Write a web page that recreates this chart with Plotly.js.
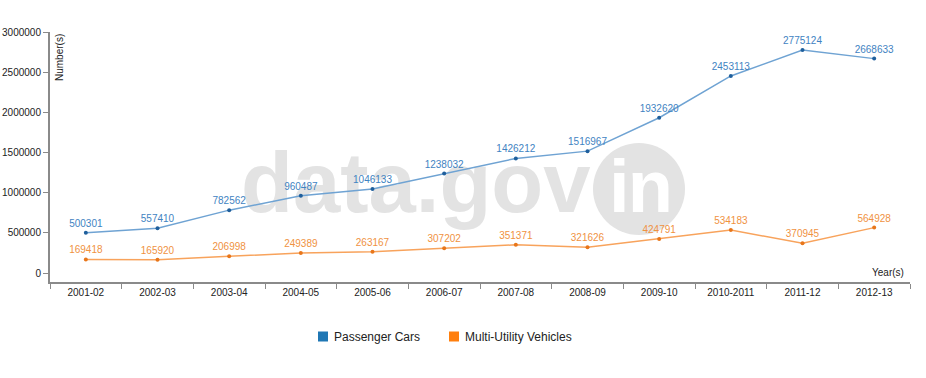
<!DOCTYPE html>
<html><head><meta charset="utf-8">
<script src="https://cdn.plot.ly/plotly-3.0.1.min.js"></script>
<style>html,body{margin:0;padding:0;background:#fff}#chart{width:926px;height:378px}</style>
</head><body><div id="chart"></div>
<script>
const years = ["2001-02","2002-03","2003-04","2004-05","2005-06","2006-07","2007-08","2008-09","2009-10","2010-2011","2011-12","2012-13"];
const passengerCars = [500301,557410,782562,960487,1046133,1238032,1426212,1516967,1932620,2453113,2775124,2668633];
const multiUtility = [169418,165920,206998,249389,263167,307202,351371,321626,424791,534183,370945,564928];
const yTicks = [0,500000,1000000,1500000,2000000,2500000,3000000];
const seriesNames = ["Passenger Cars", "Multi-Utility Vehicles"];
const seriesColors = ["#1f77b4", "#ff7f0e"];

const F = "Arial, 'Liberation Sans', sans-serif";
const L = 50, R = 16, T = 32, B = 96, W = 926, H = 378;
const pw = W - L - R, ph = H - T - B;
const px = v => (v - L) / pw;          // pixel x -> paper x
const py = v => (H - B - v) / ph;      // pixel y -> paper y

const wm = `<svg xmlns='http://www.w3.org/2000/svg' width='926' height='378' viewBox='0 0 926 378'>
<text x='241' y='212' font-family='Arial, Liberation Sans, sans-serif' font-weight='bold' font-size='85' fill='#e3e3e3'>data.gov</text>
<circle cx='639' cy='189' r='46' fill='#e3e3e3'/>
<text x='640' y='212' text-anchor='middle' font-family='Arial, Liberation Sans, sans-serif' font-weight='bold' font-size='74' letter-spacing='-2' fill='#ffffff'>in</text>
</svg>`;
const wmUri = "data:image/svg+xml;charset=utf-8," + encodeURIComponent(wm);

const traces = [
  {x: years, y: passengerCars, type: "scatter", mode: "lines+markers+text", showlegend: false,
   text: passengerCars.map(String), textposition: "top center",
   textfont: {family: F, size: 10, color: "#3f83c2"},
   line: {color: "#6fa3d3", width: 1.5}, marker: {color: "#1f5f9c", size: 4}, cliponaxis: false},
  {x: years, y: multiUtility, type: "scatter", mode: "lines+markers+text", showlegend: false,
   text: multiUtility.map(String), textposition: "top center",
   textfont: {family: F, size: 10, color: "#f0923f"},
   line: {color: "#f8a35c", width: 1.5}, marker: {color: "#e8761a", size: 4}, cliponaxis: false}
];

const legendPx = [318, 449];
const legendAnn = seriesNames.map((n, i) => ({
  text: n, xref: "paper", yref: "paper", x: px(legendPx[i] + 14), y: py(336.5),
  xanchor: "left", yanchor: "middle", showarrow: false, font: {family: F, size: 12, color: "#222"}
}));
const legendShapes = seriesNames.map((n, i) => ({
  type: "rect", xref: "paper", yref: "paper", x0: px(legendPx[i]), x1: px(legendPx[i] + 10),
  y0: py(341.5), y1: py(331.5), fillcolor: seriesColors[i], line: {width: 0}
}));

const layout = {
  width: W, height: H,
  margin: {l: L, r: R, t: T, b: B, pad: 0},
  paper_bgcolor: "#ffffff", plot_bgcolor: "rgba(0,0,0,0)",
  font: {family: F, size: 10, color: "#333"},
  xaxis: {type: "category", range: [-0.5, 11.5], showgrid: false, zeroline: false,
    showline: true, linecolor: "#8a8a8a", linewidth: 2, ticks: "outside", ticklen: 5,
    tickcolor: "#8a8a8a", tickson: "boundaries", tickfont: {family: F, size: 10, color: "#222"}},
  yaxis: {range: [-112000, 3000000], tickvals: yTicks, ticktext: yTicks.map(String),
    showgrid: false, zeroline: false, showline: true, linecolor: "#8a8a8a", linewidth: 2,
    ticks: "outside", ticklen: 5, tickcolor: "#8a8a8a", tickfont: {family: F, size: 10, color: "#222"}},
  showlegend: false,
  images: [{source: wmUri, xref: "paper", yref: "paper", x: -L / pw, y: 1 + T / ph,
    sizex: W / pw, sizey: H / ph, sizing: "stretch", xanchor: "left", yanchor: "top", layer: "below"}],
  shapes: legendShapes,
  annotations: [
    {text: "Number(s)", xref: "paper", yref: "paper", x: 0, y: 1, xanchor: "left", yanchor: "top",
     textangle: -90, showarrow: false, xshift: 2, font: {family: F, size: 10, color: "#222"}},
    {text: "Year(s)", xref: "paper", yref: "paper", x: 1, y: 0, xanchor: "right", yanchor: "bottom",
     showarrow: false, xshift: -4, yshift: 2, font: {family: F, size: 10, color: "#222"}}
  ].concat(legendAnn)
};

Plotly.newPlot("chart", traces, layout, {displayModeBar: false, staticPlot: true});
</script></body></html>
